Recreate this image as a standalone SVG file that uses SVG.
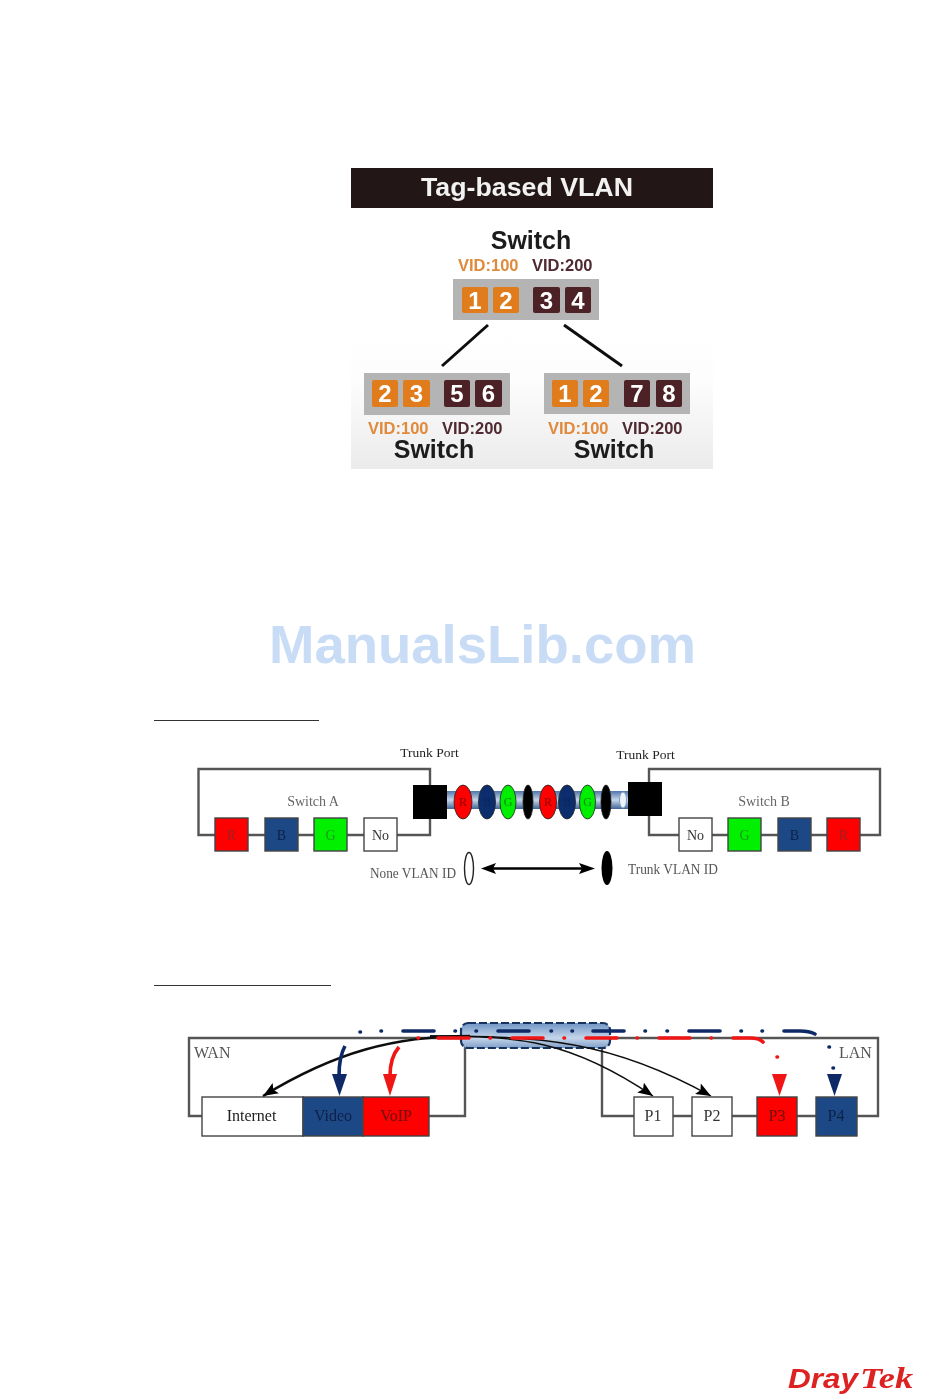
<svg xmlns="http://www.w3.org/2000/svg" width="950" height="1398" viewBox="0 0 950 1398">
<style>
text{font-family:"Liberation Sans",Arial,sans-serif}
.s{font-family:"Liberation Serif","Times New Roman",serif;font-size:14px;fill:#333}
.c{text-anchor:middle}
.sw{font-weight:bold;font-size:25px;fill:#1a1a1a;text-anchor:middle}
.o{font-weight:bold;font-size:16.500px;fill:#e08a3c}
.d{font-weight:bold;font-size:16.500px;fill:#4f2a30}
.bar{fill:#b4b4b4}
.po{fill:#e07b1c}
.pd{fill:#4d2025}
.n{font-weight:bold;font-size:24px;fill:#fff;text-anchor:middle}
.w{fill:none;stroke:#555;stroke-width:2.400}
.box{stroke:#444;stroke-width:1.400}
.red{fill:#fe0000}.blu{fill:#1f4a85}.grn{fill:#00f000}.wht{fill:#fff}
.nv{fill:none;stroke:#0b2a66;stroke-width:3.600;stroke-linecap:round}
.rd{fill:none;stroke:#f01414;stroke-width:3.600;stroke-linecap:round}
.bk{fill:none;stroke:#111;stroke-width:1.300}
</style>
<defs>
<linearGradient id="panel" x1="0" y1="0" x2="0" y2="1"><stop offset="0" stop-color="#fff"/><stop offset="0.4" stop-color="#fdfdfd"/><stop offset="1" stop-color="#ebebeb"/></linearGradient>
<linearGradient id="tube" x1="0" y1="0" x2="0" y2="1"><stop offset="0" stop-color="#4f75a8"/><stop offset="0.5" stop-color="#c6d6ea"/><stop offset="1" stop-color="#3f6394"/></linearGradient>
<linearGradient id="tube2" x1="0" y1="0" x2="0" y2="1"><stop offset="0" stop-color="#6f94c4"/><stop offset="0.6" stop-color="#c5d6ea"/><stop offset="1" stop-color="#7f9fc8"/></linearGradient>
<marker id="ah" markerWidth="16" markerHeight="12" refX="15" refY="6" orient="auto" markerUnits="userSpaceOnUse"><path d="M0 0L15 6L0 12L3 6Z" fill="#000"/></marker>
<filter id="soft" x="-5%" y="-5%" width="110%" height="110%"><feGaussianBlur stdDeviation="0.45"/></filter>
</defs>

<g id="tag-vlan-figure" filter="url(#soft)">
<rect x="351" y="168" width="362" height="40" fill="#231815"/>
<rect x="351" y="320" width="362" height="149" fill="url(#panel)"/>
<text x="527" y="196" font-size="25" font-weight="bold" fill="#f2f2f2" text-anchor="middle" textLength="212" lengthAdjust="spacingAndGlyphs">Tag-based VLAN</text>
<g id="switch-top">
<text x="531" y="249" class="sw">Switch</text>
<text x="458" y="271" class="o">VID:100</text><text x="532" y="271" class="d">VID:200</text>
<rect x="453" y="279" width="146" height="41" class="bar"/>
<rect x="462" y="287" width="26" height="26" rx="2" class="po"/><text x="475" y="308.500" class="n">1</text>
<rect x="493" y="287" width="26" height="26" rx="2" class="po"/><text x="506" y="308.500" class="n">2</text>
<rect x="533" y="287" width="27" height="26" rx="2" class="pd"/><text x="546.500" y="308.500" class="n">3</text>
<rect x="565" y="287" width="26" height="26" rx="2" class="pd"/><text x="578" y="308.500" class="n">4</text>
</g>
<g id="switch-left">
<rect x="364" y="373" width="146" height="42" class="bar"/>
<rect x="372" y="380" width="26" height="27" rx="2" class="po"/><text x="385" y="402" class="n">2</text>
<rect x="403" y="380" width="27" height="27" rx="2" class="po"/><text x="416.500" y="402" class="n">3</text>
<rect x="444" y="380" width="26" height="27" rx="2" class="pd"/><text x="457" y="402" class="n">5</text>
<rect x="475" y="380" width="27" height="27" rx="2" class="pd"/><text x="488.500" y="402" class="n">6</text>
<text x="368" y="434" class="o">VID:100</text><text x="442" y="434" class="d">VID:200</text>
<text x="434" y="458" class="sw">Switch</text>
</g>
<g id="switch-right">
<rect x="544" y="373" width="146" height="41" class="bar"/>
<rect x="552" y="380" width="26" height="27" rx="2" class="po"/><text x="565" y="402" class="n">1</text>
<rect x="583" y="380" width="26" height="27" rx="2" class="po"/><text x="596" y="402" class="n">2</text>
<rect x="624" y="380" width="26" height="27" rx="2" class="pd"/><text x="637" y="402" class="n">7</text>
<rect x="656" y="380" width="26" height="27" rx="2" class="pd"/><text x="669" y="402" class="n">8</text>
<text x="548" y="434" class="o">VID:100</text><text x="622" y="434" class="d">VID:200</text>
<text x="614" y="458" class="sw">Switch</text>
</g>
<g id="top-connectors" stroke="#111" stroke-width="3" fill="none">
<path d="M488 325L442 366"/><path d="M564 325L622 366"/>
</g>
</g>

<text id="watermark" x="269" y="663" font-size="54" font-weight="bold" fill="#c9dcf6" textLength="427" lengthAdjust="spacingAndGlyphs">ManualsLib.com</text>

<g id="fig-trunk" filter="url(#soft)">
<path d="M154 720.500H319" stroke="#333" stroke-width="1.200"/>
<g id="trunk-wires">
<path class="w" d="M430 785V769H198.500V835H430V819"/>
<path class="w" d="M649 782V769H880V835H649V816"/>
</g>
<g id="cable">
<rect x="447" y="791" width="181" height="18" fill="url(#tube)"/>
<ellipse cx="623" cy="800" rx="3.500" ry="8" fill="#eef3f9" stroke="#7f9fc8"/>
</g>
<rect id="port-a" x="413" y="785" width="34" height="34" fill="#000"/>
<rect id="port-b" x="628" y="782" width="34" height="34" fill="#000"/>
<g id="tags" stroke="#222" stroke-width="0.800">
<ellipse cx="463" cy="802" rx="9" ry="17" fill="#f00"/>
<ellipse cx="487" cy="802" rx="8.500" ry="17" fill="#0e2f6e"/>
<ellipse cx="508" cy="802" rx="8" ry="17" fill="#00ee00"/>
<ellipse cx="528" cy="802" rx="5" ry="17" fill="#000"/>
<ellipse cx="548" cy="802" rx="8.500" ry="17" fill="#f00"/>
<ellipse cx="567" cy="802" rx="8.500" ry="17" fill="#0e2f6e"/>
<ellipse cx="587.500" cy="802" rx="8" ry="17" fill="#00ee00"/>
<ellipse cx="606" cy="802" rx="5" ry="17" fill="#000"/>
</g>
<g id="tag-labels">
<text x="463" y="806" class="s c" style="font-size:12px;fill:#800">R</text>
<text x="487" y="806" class="s c" style="font-size:12px;fill:#0a2458">B</text>
<text x="508" y="806" class="s c" style="font-size:12px;fill:#0a8a0a">G</text>
<text x="548" y="806" class="s c" style="font-size:12px;fill:#800">R</text>
<text x="567" y="806" class="s c" style="font-size:12px;fill:#0a2458">B</text>
<text x="587.500" y="806" class="s c" style="font-size:12px;fill:#0a8a0a">G</text>
</g>
<g id="switch-a-ports">
<rect x="215" y="818" width="33" height="33" class="box red"/><text x="231.500" y="840" class="s c" style="fill:#922">R</text>
<rect x="265" y="818" width="33" height="33" class="box blu"/><text x="281.500" y="840" class="s c" style="fill:#0c2048">B</text>
<rect x="314" y="818" width="33" height="33" class="box grn"/><text x="330.500" y="840" class="s c" style="fill:#1a9a1a">G</text>
<rect x="364" y="818" width="33" height="33" class="box wht"/><text x="380.500" y="840" class="s c">No</text>
</g>
<g id="switch-b-ports">
<rect x="679" y="818" width="33" height="33" class="box wht"/><text x="695.500" y="840" class="s c">No</text>
<rect x="728" y="818" width="33" height="33" class="box grn"/><text x="744.500" y="840" class="s c" style="fill:#1a9a1a">G</text>
<rect x="778" y="818" width="33" height="33" class="box blu"/><text x="794.500" y="840" class="s c" style="fill:#0c2048">B</text>
<rect x="827" y="818" width="33" height="33" class="box red"/><text x="843.500" y="840" class="s c" style="fill:#922">R</text>
</g>
<text x="429.500" y="757" class="s c" style="font-size:13.500px;fill:#222">Trunk Port</text>
<text x="645.500" y="759" class="s c" style="font-size:13.500px;fill:#222">Trunk Port</text>
<text x="313" y="806" class="s c" style="fill:#666">Switch A</text>
<text x="764" y="806" class="s c" style="fill:#666">Switch B</text>
<text x="370" y="878" class="s" style="fill:#555" textLength="86" lengthAdjust="spacingAndGlyphs">None VLAN ID</text>
<text x="628" y="874" class="s" style="fill:#555" textLength="90" lengthAdjust="spacingAndGlyphs">Trunk VLAN ID</text>
<ellipse id="legend-none" cx="469" cy="868.500" rx="4.500" ry="16" fill="#fff" stroke="#222" stroke-width="1.400"/>
<ellipse id="legend-trunk" cx="607" cy="868" rx="5.500" ry="17" fill="#000"/>
<g id="legend-arrow"><path d="M490 868.500H590" stroke="#000" stroke-width="2.600"/><path d="M481 868.500L496 863L493 868.500L496 874Z" fill="#000"/><path d="M595 868.500L579 863L582 868.500L579 874Z" fill="#000"/></g>
</g>

<g id="fig-qos" filter="url(#soft)">
<path d="M154 985.500H331" stroke="#333" stroke-width="1.200"/>
<g id="qos-wires">
<path class="w" d="M202 1116H189V1038H465V1116H429"/>
<path class="w" d="M634 1116H602V1038H878V1116H857"/>
<path class="w" d="M673 1116H692M732 1116H757M797 1116H816"/>
</g>
<rect id="qos-tube" x="461" y="1023" width="149" height="25" rx="7" fill="url(#tube2)" stroke="#14305f" stroke-width="2.200" stroke-dasharray="8 3"/>
<g id="wan-ports">
<rect x="202" y="1097" width="101" height="39" class="box wht"/><text x="251.500" y="1121" class="s c" style="font-size:16px;fill:#222">Internet</text>
<rect x="303" y="1097" width="60" height="39" class="box blu"/><text x="333" y="1121" class="s c" style="font-size:16px;fill:#0c2048">Video</text>
<rect x="363" y="1097" width="66" height="39" class="box red"/><text x="396" y="1121" class="s c" style="font-size:16px;fill:#6a1010">VoIP</text>
</g>
<g id="lan-ports">
<rect x="634" y="1097" width="39" height="39" class="box wht"/><text x="653" y="1121" class="s c" style="font-size:16px">P1</text>
<rect x="692" y="1097" width="40" height="39" class="box wht"/><text x="712" y="1121" class="s c" style="font-size:16px">P2</text>
<rect x="757" y="1097" width="40" height="39" class="box red"/><text x="777" y="1121" class="s c" style="font-size:16px;fill:#6a1010">P3</text>
<rect x="816" y="1097" width="41" height="39" class="box blu"/><text x="836" y="1121" class="s c" style="font-size:16px;fill:#0c2048">P4</text>
</g>
<text x="194" y="1058" class="s" style="font-size:16px;fill:#555">WAN</text>
<text x="839" y="1058" class="s" style="font-size:16px;fill:#555">LAN</text>
<g id="qos-connectors">
<path class="bk" style="stroke-width:2.400" d="M470 1036C395 1036 335 1052 263 1096" marker-end="url(#ah)"/>
<path class="bk" d="M430 1036C520 1036 570 1040 653 1096" marker-end="url(#ah)"/>
<path class="bk" d="M430 1036C540 1036 610 1040 711 1096" marker-end="url(#ah)"/>
<path class="nv" d="M360 1032H360.500M381 1031H381.500M403 1031H434M455 1031H455.500M476 1031H476.500M498 1031H529M551 1031H551.500M572 1031H572.500M593 1031H624M645 1031H645.500M667 1031H667.500M689 1031H720M741 1031H741.500M762 1031H762.500M784 1031H800C806 1031 811 1032 815 1034"/>
<path class="nv" d="M829 1047H829.500M833 1068H833.500"/>
<path class="rd" d="M418 1038H418.500M438 1038H469M490 1038H490.500M512 1038H543M564 1038H564.500M586 1038H617M637 1038H637.500M659 1038H690M711 1038H711.500M733 1038H750C756 1038 760 1039 763 1042M777 1057H777.500"/>
<path d="M345 1046C340 1055 339 1065 339 1076" fill="none" stroke="#0b2a66" stroke-width="3.600"/>
<path d="M399 1047C392 1055 390 1065 390 1076" fill="none" stroke="#f01414" stroke-width="3.600"/>
<path d="M332 1074H347L339.500 1096Z" fill="#0b2a66"/>
<path d="M383 1074H397L390 1096Z" fill="#f01414"/>
<path d="M772 1074H787L779.500 1096Z" fill="#f01414"/>
<path d="M827 1074H842L834.500 1096Z" fill="#0b2a66"/>
</g>
</g>

<g id="logo" filter="url(#soft)">
<text x="788" y="1388" font-size="27" font-weight="bold" font-style="italic" fill="#dd2020" textLength="70" lengthAdjust="spacingAndGlyphs">Dray</text>
<text x="860" y="1388" font-size="30" font-weight="bold" font-style="italic" style="font-family:'Liberation Serif',serif" fill="#dd2020" textLength="53" lengthAdjust="spacingAndGlyphs">Tek</text>
</g>
</svg>
